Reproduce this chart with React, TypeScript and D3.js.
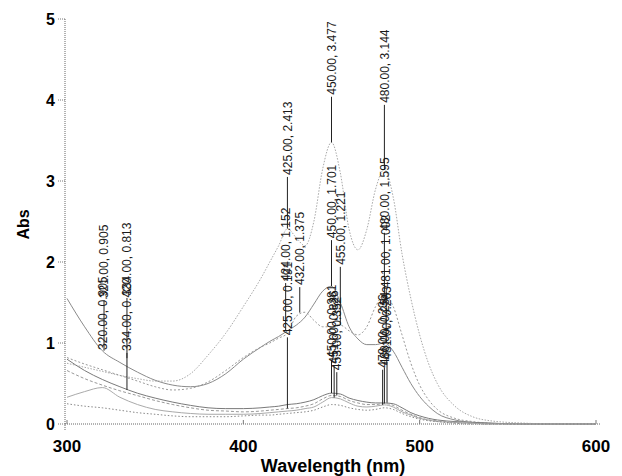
import * as d3 from "d3";

// wavelength grid (nm) shared by all spectra
const wavelengths = [
  300, 310, 320, 330, 340, 350, 360, 370, 380, 390, 400, 410, 415, 420, 425, 430, 435, 440, 445,
  450, 455, 460, 465, 470, 475, 480, 485, 490, 495, 500, 505, 510, 520, 530, 540, 560, 580, 600,
];

// absorbance of each spectrum
const absTop = [
  0.75, 0.7, 0.65, 0.6, 0.56, 0.53, 0.53, 0.62, 0.85, 1.12, 1.45, 1.8, 2.0, 2.2, 2.41, 2.3, 2.2, 2.5, 3.15,
  3.477, 3.1, 2.4, 2.15, 2.4, 2.9, 3.144, 2.8, 2.1, 1.55, 1.1, 0.75, 0.5, 0.22, 0.09, 0.04, 0.01, 0, 0,
];
const absB = [
  1.55, 1.2, 0.905, 0.76, 0.64, 0.54, 0.48, 0.46, 0.5, 0.62, 0.8, 0.95, 1.02, 1.08, 1.15, 1.22, 1.32, 1.48, 1.64,
  1.701, 1.5, 1.2, 1.05, 0.98, 0.98, 1.0, 0.9, 0.7, 0.5, 0.34, 0.22, 0.13, 0.05, 0.02, 0.01, 0, 0, 0,
];
const absC = [
  0.82, 0.74, 0.67, 0.6, 0.53, 0.46, 0.42, 0.44, 0.52, 0.66, 0.82, 0.95, 1.0, 1.06, 1.12, 1.33, 1.38, 1.28, 1.2,
  1.2, 1.221, 1.15, 1.1, 1.2, 1.45, 1.595, 1.45, 1.1, 0.75, 0.48, 0.3, 0.18, 0.07, 0.03, 0.01, 0, 0, 0,
];
const absD = [
  0.8, 0.66, 0.55, 0.46, 0.38, 0.32, 0.27, 0.23, 0.2, 0.19, 0.19, 0.2, 0.21, 0.22, 0.24, 0.25, 0.27, 0.3, 0.35,
  0.381, 0.37, 0.32, 0.29, 0.27, 0.26, 0.26, 0.25, 0.2, 0.14, 0.1, 0.07, 0.05, 0.03, 0.02, 0.01, 0, 0, 0,
];
const absE = [
  0.66, 0.56, 0.48, 0.41, 0.35, 0.29, 0.24, 0.2, 0.17, 0.16, 0.15, 0.16, 0.17, 0.18, 0.191, 0.2, 0.22, 0.25, 0.31,
  0.352, 0.34, 0.29, 0.26, 0.24, 0.24, 0.254, 0.23, 0.17, 0.12, 0.08, 0.05, 0.04, 0.02, 0.01, 0, 0, 0, 0,
];
const absF = [
  0.33, 0.4, 0.45, 0.33, 0.24, 0.18, 0.15, 0.13, 0.12, 0.12, 0.12, 0.13, 0.14, 0.15, 0.16, 0.17, 0.19, 0.21, 0.27,
  0.326, 0.31, 0.26, 0.22, 0.21, 0.22, 0.236, 0.21, 0.15, 0.11, 0.07, 0.05, 0.03, 0.02, 0.01, 0, 0, 0, 0,
];
const absG = [
  0.25, 0.22, 0.2, 0.17, 0.14, 0.12, 0.1, 0.09, 0.09, 0.09, 0.1, 0.11, 0.11, 0.12, 0.13, 0.14, 0.15, 0.17, 0.21,
  0.24, 0.23, 0.2, 0.18, 0.17, 0.18, 0.2, 0.18, 0.13, 0.09, 0.06, 0.04, 0.03, 0.01, 0, 0, 0, 0, 0,
];

// picked peaks: wavelength and absorbance
const peakWl = [320, 321, 334, 334, 425, 424, 425, 432, 450, 450, 455, 450, 451.5, 453, 480, 480, 481, 480, 481.5, 479];
const peakAbs = [
  0.905, 0.905, 0.42, 0.813, 0.191, 1.152, 2.413, 1.375, 3.477, 1.701, 1.221, 0.381, 0.326, 0.352, 3.144, 1.595,
  1.002, 0.254, 0.263, 0.236,
];

const yTicks = [0, 1, 2, 3, 4, 5];
const xTicks = [300, 400, 500, 600];

// where each rotated peak label begins (absorbance units)
const labelFrom = [
  0.89, 1.53, 0.877, 1.556, 1.07, 1.74, 3.05, 1.69, 4.04, 2.27, 1.94, 0.79, 0.72, 0.64, 3.94, 2.36, 1.65, 0.7,
  0.77, 0.67,
];

const spectra = [
  { values: absTop, color: "#a8a8a8", dash: "1.5,1.5" },
  { values: absB, color: "#8a8a8a", dash: "none" },
  { values: absC, color: "#9a9a9a", dash: "2,2" },
  { values: absD, color: "#7a7a7a", dash: "none" },
  { values: absE, color: "#999", dash: "3,2" },
  { values: absF, color: "#aaa", dash: "none" },
  { values: absG, color: "#888", dash: "1.5,2" },
];

const FONT = "'Liberation Sans', Arial, sans-serif";

export default function App() {
  const width = 622;
  const height = 476;

  const x = d3.scaleLinear().domain([300, 600]).range([67, 596]);
  const y = d3.scaleLinear().domain([0, 5]).range([424, 19]);

  const line = d3
    .line<number>()
    .x((_, i) => x(wavelengths[i]))
    .y((d) => y(d))
    .curve(d3.curveMonotoneX);

  const axisX = x(300) - 2;

  return (
    <svg
      width={width}
      height={height}
      style={{ position: "absolute", left: 0, top: 0, background: "#fff" }}
      fontFamily={FONT}
    >
      {/* y axis */}
      <line x1={axisX} x2={axisX} y1={y(5)} y2={y(0) + 7} stroke="#666" strokeDasharray="1,1" />
      {yTicks.map((t) => (
        <g key={t}>
          <line x1={axisX - 7} x2={axisX} y1={y(t)} y2={y(t)} stroke="#777" strokeDasharray="1,1" />
          <text x={axisX - 10} y={y(t)} dy="0.36em" textAnchor="end" fontSize={16} fontWeight="bold">
            {t}
          </text>
        </g>
      ))}

      {/* x axis */}
      <line x1={axisX} x2={x(600) + 4} y1={y(0)} y2={y(0)} stroke="#666" strokeDasharray="1,1" />
      {xTicks.map((t) => (
        <g key={t}>
          <line x1={x(t)} x2={x(t)} y1={y(0)} y2={y(0) - 4} stroke="#777" />
          <text x={x(t)} y={452} textAnchor="middle" fontSize={17} fontWeight="bold">
            {t}
          </text>
        </g>
      ))}

      <text
        transform={`translate(23,${y(2.5) + 3}) rotate(-90)`}
        textAnchor="middle"
        dy="0.36em"
        fontSize={16}
        fontWeight="bold"
      >
        Abs
      </text>
      <text x={333} y={472} textAnchor="middle" fontSize={18} fontWeight="bold">
        Wavelength (nm)
      </text>

      {/* spectra */}
      {spectra.map((s, i) => (
        <path
          key={i}
          d={line(s.values) || ""}
          fill="none"
          stroke={s.color}
          strokeWidth={1}
          strokeDasharray={s.dash}
        />
      ))}

      {/* peak leaders and labels */}
      {peakWl.map((wl, i) => {
        const px = x(wl);
        const py = y(peakAbs[i]);
        const ly = y(labelFrom[i]);
        const txt = `${wl.toFixed(2)}, ${peakAbs[i].toFixed(3)}`;
        return (
          <g key={i}>
            {ly < py && <line x1={px} x2={px} y1={py} y2={ly} stroke="#222" strokeWidth={1} />}
            <text
              transform={`translate(${px},${ly - 2}) rotate(-90)`}
              dy="0.36em"
              fontSize={12}
              fill="#1a1a1a"
            >
              {txt.replace("451.50", "451.00").replace("481.50", "481.00")}
            </text>
          </g>
        );
      })}
    </svg>
  );
}
